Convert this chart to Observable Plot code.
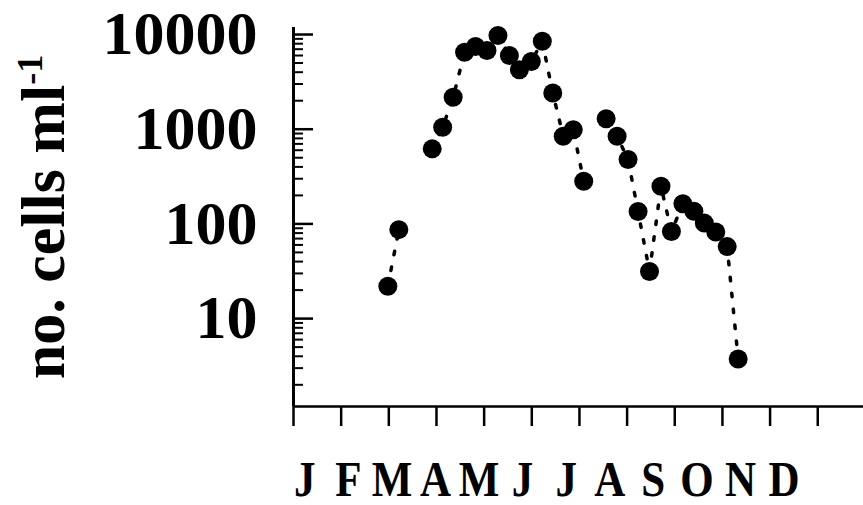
<!DOCTYPE html>
<html>
<head>
<meta charset="utf-8">
<script src="https://cdn.jsdelivr.net/npm/d3@7"></script>
<script src="https://cdn.jsdelivr.net/npm/@observablehq/plot@0.6"></script>
<style>
  html, body { margin: 0; padding: 0; background: #fff; }
  #chart svg { display: block; }
</style>
</head>
<body>
<div id="chart"></div>
<script>
// ---- data ----
const monthLabels = ["J", "F", "M", "A", "M", "J", "J", "A", "S", "O", "N", "D"];
const monthTicks = [0, 1, 2, 3, 4, 5, 6, 7, 8, 9, 10, 11];
const yTicks = [10, 100, 1000, 10000];
const yMinorTicks = [2, 3, 4, 5, 6, 7, 8, 9,
  20, 30, 40, 50, 60, 70, 80, 90,
  200, 300, 400, 500, 600, 700, 800, 900,
  2000, 3000, 4000, 5000, 6000, 7000, 8000, 9000];
const yTitle = "no. cells ml";
const yTitleSup = "-1";

// sampling time (months since 1 Jan) and cell counts
const sampleMonth = [1.98, 2.21,
  2.91, 3.13, 3.35, 3.59, 3.82, 4.06, 4.29, 4.53, 4.74, 4.99, 5.22, 5.44, 5.66, 5.87, 6.09,
  6.56, 6.79, 7.02, 7.23, 7.47, 7.71, 7.93, 8.17, 8.40, 8.62, 8.86, 9.10, 9.33];
const cells = [22, 87,
  620, 1050, 2180, 6500, 7470, 6780, 9760, 6000, 4240, 5190, 8490, 2410, 843, 985, 282,
  1290, 843, 478, 135, 31.4, 250, 83, 163, 136, 102, 82, 57.6, 3.75];
const segment = [1, 1,
  2, 2, 2, 2, 2, 2, 2, 2, 2, 2, 2, 2, 2, 2, 2,
  3, 3, 3, 3, 3, 3, 3, 3, 3, 3, 3, 3, 3];

const data = sampleMonth.map((m, i) => ({month: m, cells: cells[i], seg: segment[i]}));

const yDomain = [1.18, 11860];
const labelStart = 0.237, labelStep = 0.914; // month-label layout along the axis

const font = "'Liberation Serif', 'Times New Roman', Times, serif";

const chart = Plot.plot({
  width: 863,
  height: 505,
  marginLeft: 293,
  marginRight: 0,
  marginTop: 27,
  marginBottom: 99,
  x: {domain: [0, 11.96], axis: null},
  y: {type: "log", domain: yDomain, label: null},
  style: {fontFamily: font, background: "#fff", color: "#000"},
  marks: [
    Plot.ruleX([0], {strokeWidth: 3}),
    Plot.ruleY([yDomain[0]], {strokeWidth: 2.5}),
    Plot.tickY(yTicks, {y: d => d, insetRight: 550, strokeWidth: 2.5}),
    Plot.tickY(yMinorTicks, {y: d => d, insetRight: 560, strokeWidth: 2}),
    Plot.tickX(monthTicks, {x: d => d, insetTop: 379, insetBottom: -20, strokeWidth: 2.5}),
    Plot.axisY(yTicks, {
      tickSize: 0, tickPadding: 36, tickFormat: d => String(d),
      fontSize: 62, fontWeight: "bold", fill: "#000", label: null
    }),
    Plot.line(data, {x: "month", y: "cells", z: "seg", stroke: "#000",
      strokeWidth: 3.5, strokeDasharray: "3.5,12.5"}),
    Plot.dot(data, {x: "month", y: "cells", r: 9.5, fill: "#000", stroke: null}),
    Plot.text(monthLabels, {
      text: d => d, x: (d, i) => labelStart + i * labelStep,
      frameAnchor: "bottom", lineAnchor: "bottom", textAnchor: "middle", dy: 89,
      fontSize: 43, fontWeight: "bold", fill: "#000"
    }),
    Plot.text([yTitle], {
      text: d => d, frameAnchor: "left", dx: -230, rotate: -90,
      lineAnchor: "bottom", textAnchor: "middle",
      fontSize: 62, fontWeight: "bold", fill: "#000"
    })
  ]
});

// add the superscript to the y title
d3.select(chart).selectAll("text")
  .filter(function() { return this.textContent === yTitle; })
  .append("tspan")
  .attr("dy", -22)
  .attr("font-size", 36)
  .text(yTitleSup);

// month letters are tall and narrow in the reference: stretch them vertically about their baseline
d3.select(chart).selectAll("text")
  .filter(function() { return this.getAttribute("font-size") == null && monthLabels.includes(this.textContent) && this.parentNode.getAttribute("font-size") === "43"; })
  .each(function() {
    const t = this.getAttribute("transform");
    if (t) this.setAttribute("transform", t + " scale(1,1.17)");
  });

document.getElementById("chart").appendChild(chart);
</script>
</body>
</html>
